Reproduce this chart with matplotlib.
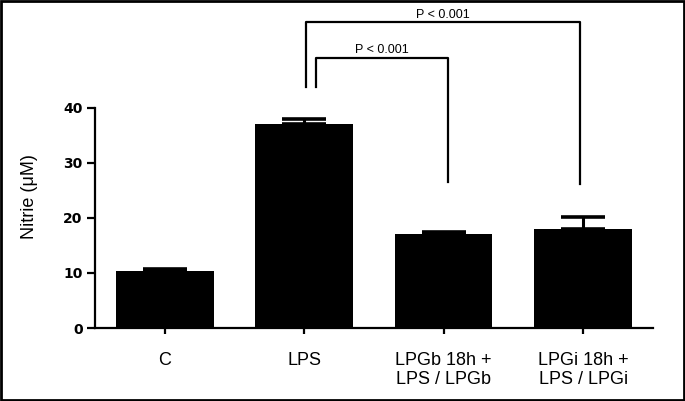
import matplotlib
matplotlib.use('Agg')
import numpy as np
from matplotlib import pyplot as plt
from matplotlib.patches import Rectangle

plt.rcParams['font.family'] = ['Liberation Sans', 'DejaVu Sans']

# data
groups = ['C', 'LPS', 'LPGb 18h +\nLPS / LPGb', 'LPGi 18h +\nLPS / LPGi']
nitrite = [10.4, 37.1, 17.0, 18.0]
sem = [0.3, 0.9, 0.5, 2.1]
y_ticks = [0, 10, 20, 30, 40]

# significance brackets: (from group, to group, foot at left, foot at right, top, label)
brackets = [(1, 2, 43.8, 26.6, 49.1, 'P < 0.001'),
            (1, 3, 43.8, 26.1, 55.5, 'P < 0.001')]

fig = plt.figure(figsize=(6.85, 4.01), dpi=100)
ax = fig.add_axes([0.1387, 0.182, 0.8143, 0.5494])

x = np.arange(len(groups))
ax.bar(x, nitrite, width=0.7, color='black', zorder=2)
ax.errorbar(x, nitrite, yerr=[np.zeros(len(sem)), sem], fmt='none',
            ecolor='black', elinewidth=2.2, capsize=16, capthick=2.6, zorder=1)

ax.set_xlim(-0.5, 3.5)
ax.set_ylim(0, 40)
ax.set_xticks(x)
ax.set_xticklabels(groups, fontsize=13, linespacing=1.2)
ax.set_yticks(y_ticks)
ax.set_yticklabels([str(t) for t in y_ticks], fontsize=10, fontweight='bold',
                   family='DejaVu Sans')

for s in ['top', 'right']:
    ax.spines[s].set_visible(False)
for s in ['left', 'bottom']:
    ax.spines[s].set_linewidth(1.6)
ax.tick_params(axis='y', length=6, width=1.6, pad=3)
ax.tick_params(axis='x', length=4, width=1.6, pad=13)

fig.text(29 / 685, 1 - 196.7 / 401, 'Nitrie (\u03bcM)', rotation=90,
         ha='center', va='center', fontsize=13)

# brackets drawn above the axes
offsets = [0.086, 0.014]
for (a, b, yl, yr, top, lab), off in zip(brackets, offsets):
    xl = x[a] + off
    xr = x[b] - 0.02 if b == 3 else x[b] - 0.066 + 0.1
    ax.plot([xl, xl, xr, xr], [yl, top, top, yr], color='black', lw=1.6,
            clip_on=False)
    ax.text((xl + xr) / 2, top + 0.2, lab, ha='center', va='bottom',
            fontsize=9)

fig.patches.append(Rectangle((0.002, 0.003), 0.996, 0.994, transform=fig.transFigure,
                             fill=False, edgecolor='black', linewidth=2))

plt.savefig('out.png', dpi=100)
